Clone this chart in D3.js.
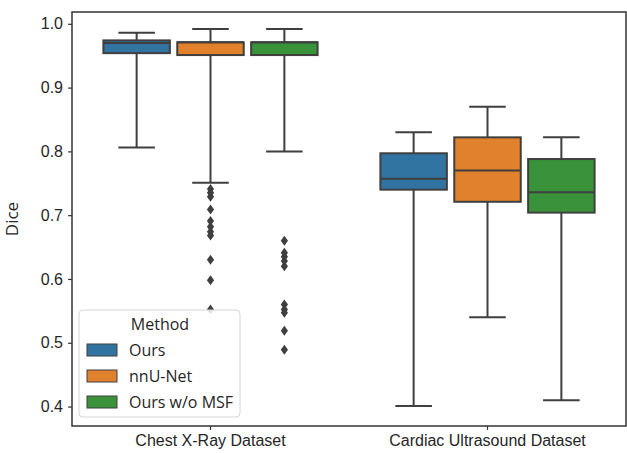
<!DOCTYPE html>
<html>
<head>
<meta charset="utf-8">
<script src="https://cdn.jsdelivr.net/npm/d3@7"></script>
<style>
  body { margin: 0; background: #fff; }
  svg { display: block; font-family: "Segoe UI", "Open Sans", "Noto Sans", sans-serif; }
</style>
</head>
<body>
<svg id="chart" width="627" height="453"></svg>
<script>
// datasets on the x axis, methods as hue
const categories = ["Chest X-Ray Dataset", "Cardiac Ultrasound Dataset"];
const methods = ["Ours", "nnU-Net", "Ours w/o MSF"];
const colors = ["#3274a1", "#e1812c", "#3a923a"];

// [whiskerLow, q1, median, q3, whiskerHigh] per method, one row per dataset
const chestStats = [
  [0.806, 0.954, 0.970, 0.974, 0.986],
  [0.751, 0.951, 0.971, 0.971, 0.992],
  [0.800, 0.951, 0.971, 0.971, 0.992]
];
const cardiacStats = [
  [0.401, 0.740, 0.757, 0.797, 0.830],
  [0.540, 0.721, 0.770, 0.822, 0.870],
  [0.410, 0.704, 0.736, 0.788, 0.822]
];
const chestOutliers = [
  [],
  [0.741, 0.735, 0.729, 0.709, 0.691, 0.682, 0.674, 0.668, 0.630, 0.598, 0.552],
  [0.660, 0.641, 0.635, 0.628, 0.620, 0.560, 0.552, 0.547, 0.519, 0.489]
];
const cardiacOutliers = [[], [], []];
const yTicks = [0.4, 0.5, 0.6, 0.7, 0.8, 0.9, 1.0];

const allStats = [chestStats, cardiacStats];
const allOutliers = [chestOutliers, cardiacOutliers];

const margin = {top: 12, right: 1, bottom: 27, left: 72};
const width = 627 - margin.left - margin.right;
const height = 453 - margin.top - margin.bottom;
const ink = "#3f3f3f";

const svg = d3.select("#chart");
const g = svg.append("g").attr("transform", "translate(" + margin.left + "," + margin.top + ")");

const x = d3.scaleBand().domain(categories).range([0, width]).padding(0);
const hue = d3.scaleBand().domain(methods)
  .range([-0.4 * x.bandwidth(), 0.4 * x.bandwidth()]);
const y = d3.scaleLinear().domain([0.3695, 1.0185]).range([height, 0]);

const boxW = hue.bandwidth() * 0.9;
const capW = boxW * 0.55;

// boxes
categories.forEach((cat, ci) => {
  methods.forEach((m, mi) => {
    const s = allStats[ci][mi];
    const cx = x(cat) + x.bandwidth() / 2 + hue(m) + hue.bandwidth() / 2;
    const box = g.append("g");
    box.append("line").attr("x1", cx).attr("x2", cx).attr("y1", y(s[0])).attr("y2", y(s[1]))
      .attr("stroke", ink).attr("stroke-width", 2);
    box.append("line").attr("x1", cx).attr("x2", cx).attr("y1", y(s[3])).attr("y2", y(s[4]))
      .attr("stroke", ink).attr("stroke-width", 2);
    [s[0], s[4]].forEach(v => {
      box.append("line").attr("x1", cx - capW / 2).attr("x2", cx + capW / 2)
        .attr("y1", y(v)).attr("y2", y(v)).attr("stroke", ink).attr("stroke-width", 2);
    });
    box.append("rect").attr("x", cx - boxW / 2).attr("width", boxW)
      .attr("y", y(s[3])).attr("height", y(s[1]) - y(s[3]))
      .attr("fill", colors[mi]).attr("stroke", ink).attr("stroke-width", 2);
    box.append("line").attr("x1", cx - boxW / 2).attr("x2", cx + boxW / 2)
      .attr("y1", y(s[2])).attr("y2", y(s[2])).attr("stroke", ink).attr("stroke-width", 2);

    box.selectAll("path.out").data(allOutliers[ci][mi]).enter().append("path")
      .attr("class", "out")
      .attr("d", d => `M${cx},${y(d) - 5}L${cx + 3.6},${y(d)}L${cx},${y(d) + 5}L${cx - 3.6},${y(d)}Z`)
      .attr("fill", ink);
  });
});

// axes
const yAxis = d3.axisLeft(y).tickValues(yTicks).tickFormat(d3.format(".1f")).tickSize(4).tickPadding(5);
const xAxis = d3.axisBottom(x).tickSize(4).tickPadding(5);

const gy = g.append("g").call(yAxis);
const gx = g.append("g").attr("transform", "translate(0," + height + ")").call(xAxis);
[gx, gy].forEach(a => {
  a.select(".domain").remove();
  a.selectAll(".tick line").attr("stroke", "#333").attr("stroke-width", 1.2);
  a.selectAll(".tick text").attr("fill", "#262626").style("font-size", "16px");
});

// spines
g.append("rect").attr("x", 0).attr("y", 0).attr("width", width).attr("height", height)
  .attr("fill", "none").attr("stroke", "#333").attr("stroke-width", 1.5);

svg.append("text")
  .attr("transform", "translate(18," + (margin.top + height / 2) + ") rotate(-90)")
  .attr("text-anchor", "middle").attr("fill", "#262626").style("font-size", "17px")
  .text("Dice");

// legend
const leg = g.append("g").attr("transform", "translate(7,298)");
leg.append("rect").attr("width", 161).attr("height", 107).attr("rx", 4)
  .attr("fill", "#fff").attr("fill-opacity", 0.85).attr("stroke", "#d6d6d6");
leg.append("text").attr("x", 81).attr("y", 20).attr("text-anchor", "middle")
  .attr("fill", "#262626").style("font-size", "16px").text("Method");
methods.forEach((m, i) => {
  const row = leg.append("g").attr("transform", "translate(8," + (34 + i * 26) + ")");
  row.append("rect").attr("width", 30).attr("height", 12)
    .attr("fill", colors[i]).attr("stroke", ink).attr("stroke-width", 1);
  row.append("text").attr("x", 42).attr("y", 6).attr("dy", "0.35em")
    .attr("fill", "#262626").style("font-size", "16px").text(m);
});
</script>
</body>
</html>
